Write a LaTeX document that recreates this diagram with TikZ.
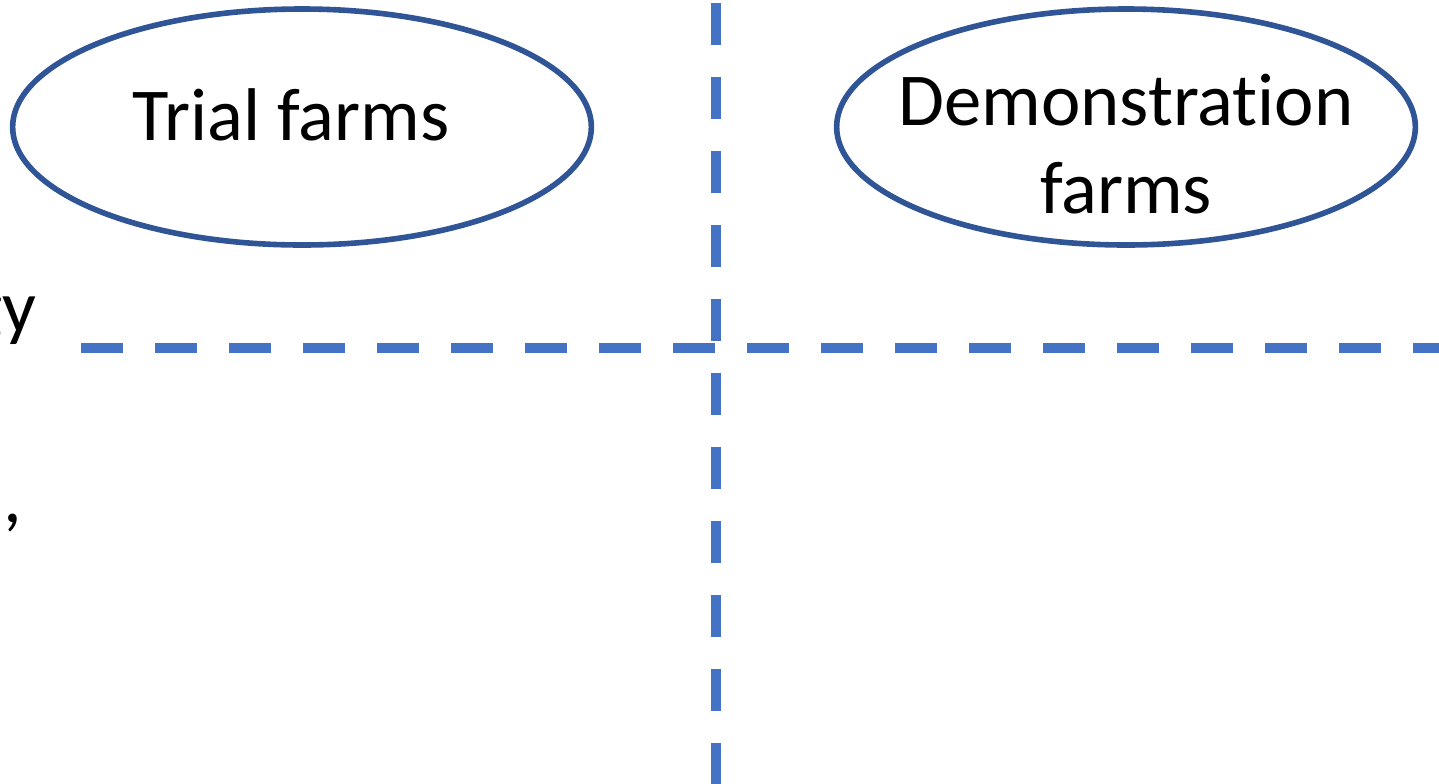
\documentclass[tikz,border=0pt]{standalone}
\usepackage{fontspec}
\setmainfont{Carlito}[RawFeature=-liga]
\usetikzlibrary{shapes.geometric}
\definecolor{farmblue}{HTML}{2F5597}
\definecolor{splitblue}{HTML}{4472C4}

\begin{document}
\begin{tikzpicture}[x=0.75pt,y=-0.75pt,
  farm/.style={draw=farmblue,line width=4.2pt,ellipse,inner sep=0pt,
    minimum width=434pt,minimum height=177pt},
  farmtext/.style={font=\fontsize{56}{66}\selectfont,align=center,anchor=base},
  split/.style={draw=splitblue,line width=7.5pt,dash pattern=on 31.5pt off 24pt},
  cut/.style={font=\fontsize{56}{66}\selectfont,inner sep=0pt,anchor=base east}]
\useasboundingbox (0,0) rectangle (1439,783);
\clip (0,0) rectangle (1439,783);

%farms
\node[farm] (trial) at (302,127) {};
\node[farmtext] (trialtext) at (291,140) {Trial farms};
\node[farm] (demo) at (1126,127) {};
\node[farmtext] (demotext) at (1126,213) {Demonstration\\farms};

%cut-off words on the left
\node[cut] (wordA) at (37,332) {gy};
\node[cut] (wordB) at (22,522) {e,};

%dashed split lines
\coordinate (top) at (716,3);
\coordinate (bottom) at (716,790);
\coordinate (left) at (81,348);
\coordinate (right) at (1445,348);
\draw[split] (top) -- (bottom);
\draw[split] (left) -- (right);
\end{tikzpicture}
\end{document}
